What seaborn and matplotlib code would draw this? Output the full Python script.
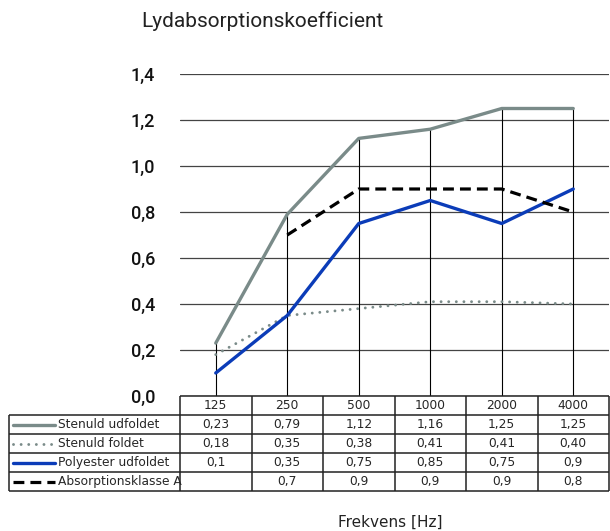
import matplotlib.pyplot as plt
import numpy as np
import seaborn as sns

# data
freqs = ["125", "250", "500", "1000", "2000", "4000"]
stenuld_udfoldet = [0.23, 0.79, 1.12, 1.16, 1.25, 1.25]
stenuld_foldet = [0.18, 0.35, 0.38, 0.41, 0.41, 0.40]
polyester_udfoldet = [0.1, 0.35, 0.75, 0.85, 0.75, 0.9]
klasse_a = [np.nan, 0.7, 0.9, 0.9, 0.9, 0.8]

series_names = ["Stenuld udfoldet", "Stenuld foldet", "Polyester udfoldet", "Absorptionsklasse A"]
series_values = [stenuld_udfoldet, stenuld_foldet, polyester_udfoldet, klasse_a]
series_decimals = [2, 2, None, None]
yticks = [0.0, 0.2, 0.4, 0.6, 0.8, 1.0, 1.2, 1.4]

GRAY = "#7a8b89"
BLUE = "#0b3cb8"
styles = [
    dict(color=GRAY, linewidth=2.4, linestyle="-"),
    dict(color=GRAY, linewidth=2.1, linestyle=(0, (0.01, 2.6)), dash_capstyle="round"),
    dict(color=BLUE, linewidth=2.4, linestyle="-"),
    dict(color="black", linewidth=2.3, linestyle=(0, (3.4, 1.9))),
]

sns.set_style("white")
plt.rcParams["font.family"] = ["DejaVu Sans"]

W, H = 610, 531
fig = plt.figure(figsize=(W / 100, H / 100), dpi=100)

# plot area in pixels
x0, x1 = 180, 609
y_top, y_bot = 74, 396
ax = fig.add_axes([x0 / W, 1 - y_bot / H, (x1 - x0) / W, (y_bot - y_top) / H])

xpos = np.arange(len(freqs))
for vals, st in zip(series_values, styles):
    v = np.array(vals, dtype=float)
    m = ~np.isnan(v)
    sns.lineplot(x=xpos[m], y=v[m], ax=ax, legend=False, **st, zorder=3)

# drop lines from the highest point down to zero
top = np.nanmax(np.array(series_values, dtype=float), axis=0)
ax.vlines(xpos, 0, top, color="black", linewidth=0.8, zorder=2)

ax.set_xlim(-0.5, len(freqs) - 0.5)
ax.set_ylim(0, 1.4)
ax.set_yticks(yticks)
ax.set_yticklabels([f"{t:.1f}".replace(".", ",") for t in yticks],
                   fontfamily="Roboto", fontweight="medium", fontsize=13, color="#111111")
ax.tick_params(axis="y", length=0, pad=18)
ax.set_xticks([])
ax.grid(axis="y", color="#444444", linewidth=0.9)
ax.grid(axis="x", visible=False)
for s in ax.spines.values():
    s.set_visible(False)
ax.set_facecolor("none")

# data table below the chart
unit = (x1 - x0) / len(freqs)
lab_w = (x0 - 9) / unit
tab_top, row_h = 396, 19
n_rows = len(series_names) + 1
tax = fig.add_axes([9 / W, 1 - (tab_top + n_rows * row_h) / H,
                    (x1 - 9) / W, n_rows * row_h / H])
xl = -0.5 - lab_w
xr = len(freqs) - 0.5
tax.set_xlim(xl, xr)
tax.set_ylim(n_rows, 0)
tax.axis("off")

line_kw = dict(color="#222222", linewidth=1.1, clip_on=False)
tax.hlines(0, -0.5, xr, **line_kw)
tax.hlines(np.arange(1, n_rows + 1), xl, xr, **line_kw)
tax.vlines(np.arange(len(freqs) + 1) - 0.5, 0, n_rows, **line_kw)
tax.vlines(xl, 1, n_rows, **line_kw)

for i, f in enumerate(freqs):
    tax.text(i, 0.5, f, ha="center", va="center", fontsize=8.8)

for r, (name, vals, dec, st) in enumerate(zip(series_names, series_values,
                                               series_decimals, styles)):
    y = r + 1.5
    tax.plot([xl + 4 / unit, xl + 46 / unit], [y, y], clip_on=False, **st)
    tax.text(xl + 49 / unit, y, name, ha="left", va="center", fontsize=8.8)
    for i, v in enumerate(vals):
        if np.isnan(v):
            continue
        txt = f"{v:.{dec}f}" if dec else f"{v:g}"
        tax.text(i, y, txt.replace(".", ","), ha="center", va="center", fontsize=8.8)

fig.text(262 / W, 1 - 21 / H, "Lydabsorptionskoefficient", ha="center", va="center",
         fontsize=15, fontfamily="Roboto", color="#222222")
fig.text(390 / W, 1 - 522 / H, "Frekvens [Hz]", ha="center", va="center",
         fontsize=11, color="#222222")

fig.savefig("out.png", dpi=100)
